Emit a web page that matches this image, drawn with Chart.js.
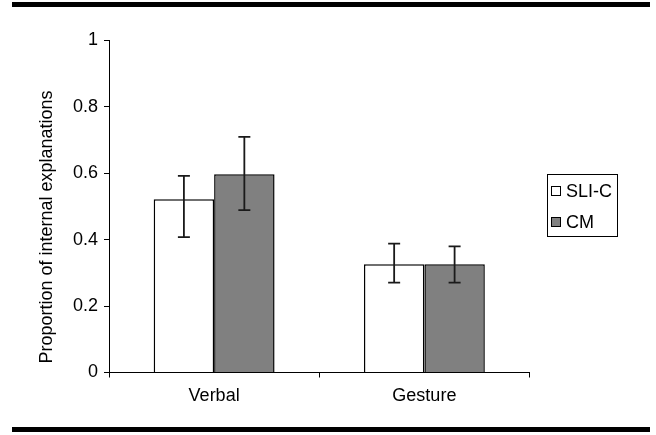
<!DOCTYPE html>
<html>
<head>
<meta charset="utf-8">
<style>
  html, body { margin: 0; padding: 0; background: #fff; }
  #wrap { position: relative; width: 656px; height: 435px; }
</style>
<script src="https://cdn.jsdelivr.net/npm/chart.js@4"></script>
</head>
<body>
<div id="wrap"><canvas id="c" width="656" height="435"></canvas></div>
<script>
const categories = ["Verbal", "Gesture"];
const seriesNames = ["SLI-C", "CM"];
const sliValues = [0.522, 0.326];
const cmValues = [0.597, 0.326];
const sliLow = [0.408, 0.271];
const sliHigh = [0.592, 0.388];
const cmLow = [0.489, 0.271];
const cmHigh = [0.710, 0.380];
const yTicks = [0, 0.2, 0.4, 0.6, 0.8, 1];
const yTitle = "Proportion of internal explanations";

const FONT = "'Liberation Sans', Arial, sans-serif";
const FSIZE = 18;

const errorBars = {
  id: 'errorBars',
  afterDatasetsDraw(chart) {
    const ctx = chart.ctx;
    const y = chart.scales.y;
    const lows = [sliLow, cmLow], highs = [sliHigh, cmHigh];
    ctx.save();
    ctx.strokeStyle = '#1a1a1a';
    ctx.lineWidth = 1.8;
    chart.data.datasets.forEach((ds, i) => {
      const meta = chart.getDatasetMeta(i);
      meta.data.forEach((bar, j) => {
        const x = bar.x;
        const yl = y.getPixelForValue(lows[i][j]);
        const yh = y.getPixelForValue(highs[i][j]);
        const cap = 6;
        ctx.beginPath();
        ctx.moveTo(x, yl); ctx.lineTo(x, yh);
        ctx.moveTo(x - cap, yl); ctx.lineTo(x + cap, yl);
        ctx.moveTo(x - cap, yh); ctx.lineTo(x + cap, yh);
        ctx.stroke();
      });
    });
    ctx.restore();
  }
};

const decor = {
  id: 'decor',
  afterDraw(chart) {
    const ctx = chart.ctx;
    ctx.save();
    ctx.fillStyle = '#000';
    ctx.fillRect(12, 2, 638, 5);
    ctx.fillRect(12, 427, 638, 5);
    ctx.font = FSIZE + 'px ' + FONT;
    ctx.textAlign = 'center';
    ctx.textBaseline = 'middle';
    ctx.translate(47, 227);
    ctx.rotate(-Math.PI / 2);
    ctx.fillText(yTitle, 0, 0);
    ctx.restore();

    ctx.save();
    ctx.strokeStyle = '#000';
    ctx.lineWidth = 1;
    ctx.strokeRect(547.5, 174.5, 70, 62);
    ctx.font = FSIZE + 'px ' + FONT;
    ctx.textBaseline = 'middle';
    ctx.textAlign = 'left';
    const rows = [191, 222];
    chart.data.datasets.forEach((ds, i) => {
      const cy = rows[i];
      ctx.fillStyle = ds.backgroundColor;
      ctx.fillRect(551.5, cy - 4.5, 9, 9);
      ctx.strokeStyle = '#000';
      ctx.lineWidth = 1;
      ctx.strokeRect(551.5, cy - 4.5, 9, 9);
      ctx.fillStyle = '#000';
      ctx.fillText(ds.label, 566, cy + 1);
    });
    ctx.restore();
  }
};

new Chart(document.getElementById('c'), {
  type: 'bar',
  data: {
    labels: categories,
    datasets: [
      { label: seriesNames[0], data: sliValues, backgroundColor: '#ffffff', borderColor: '#000', borderWidth: 1.5, borderSkipped: 'bottom' },
      { label: seriesNames[1], data: cmValues, backgroundColor: '#808080', borderColor: '#000', borderWidth: 1.5, borderSkipped: 'bottom' }
    ]
  },
  options: {
    responsive: false,
    animation: false,
    devicePixelRatio: 1,
    layout: { padding: { left: 0, right: 126.5, top: 40.5, bottom: 0 } },
    plugins: { legend: { display: false }, tooltip: { enabled: false } },
    datasets: { bar: { categoryPercentage: 0.575, barPercentage: 1.0 } },
    scales: {
      x: {
        offset: true,
        grid: { offset: true, drawOnChartArea: false, drawTicks: true, tickLength: 5, color: '#000', lineWidth: 1 },
        border: { color: '#000', width: 1 },
        ticks: { color: '#000', font: { family: FONT, size: FSIZE }, padding: 8 },
        afterFit(s) { s.height = 62.5; }
      },
      y: {
        min: 0, max: 1,
        afterBuildTicks(s) { s.ticks = yTicks.map(v => ({ value: v })); },
        grid: { drawOnChartArea: false, drawTicks: true, tickLength: 5, color: '#000', lineWidth: 1 },
        border: { color: '#000', width: 1 },
        ticks: { color: '#000', font: { family: FONT, size: FSIZE }, padding: 6, callback: v => String(v) },
        afterFit(s) { s.width = 109; }
      }
    }
  },
  plugins: [errorBars, decor]
});
</script>
</body>
</html>
